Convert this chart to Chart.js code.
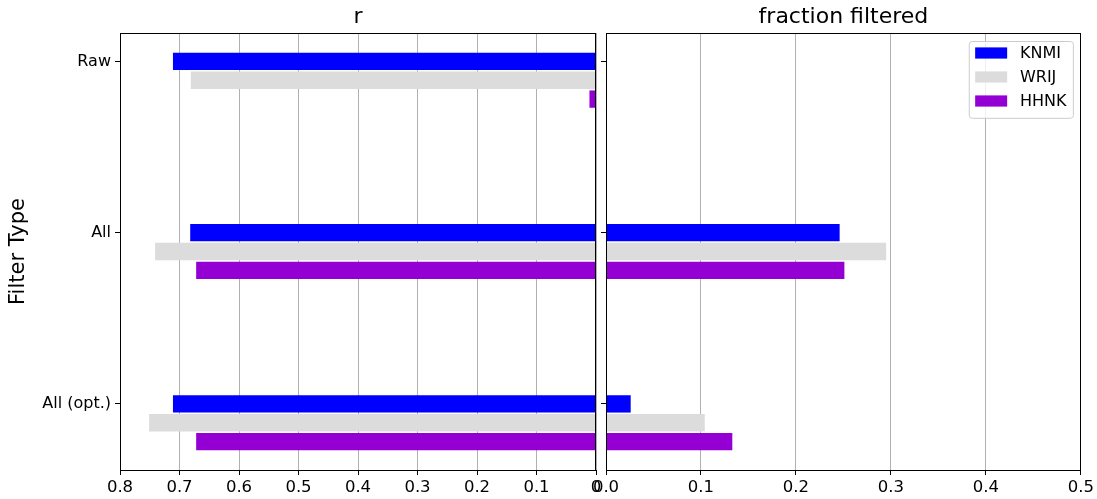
<!DOCTYPE html>
<html>
<head>
<meta charset="utf-8">
<script src="https://cdn.jsdelivr.net/npm/chart.js@4/dist/chart.umd.min.js"></script>
<style>
    html, body { margin: 0; padding: 0; background: #fff; }
    body { width: 1097px; height: 499px; position: relative; overflow: hidden; }
    canvas { position: absolute; top: 0; }
    #rChart { left: 0; }
    #fracChart { left: 560px; }
</style>
</head>
<body>
<canvas id="rChart" width="606" height="499"></canvas>
<canvas id="fracChart" width="537" height="499"></canvas>
<script>
// categories (top to bottom) and the three sources
const filterTypes = ["Raw", "All", "All (opt.)"]
const sources = ["KNMI", "WRIJ", "HHNK"]
const sourceColors = ["#0000ff", "#dcdcdc", "#9400d3"]

// correlation r per filter type
const rKNMI = [0.711, 0.682, 0.711]
const rWRIJ = [0.681, 0.741, 0.751]
const rHHNK = [0.011, 0.672, 0.672]

// fraction of data filtered out
const fracKNMI = [0, 0.246, 0.026]
const fracWRIJ = [0, 0.295, 0.104]
const fracHHNK = [0, 0.251, 0.133]

const rTicks = [0, 0.1, 0.2, 0.3, 0.4, 0.5, 0.6, 0.7, 0.8]
const fracTicks = [0, 0.1, 0.2, 0.3, 0.4, 0.5]

Chart.defaults.font.family = "'DejaVu Sans', sans-serif"
Chart.defaults.color = "#000"
Chart.defaults.animation = false

const barStep = 0.11   // each source sits one bar below the previous one

function buildDatasets(seriesList) {
    return seriesList.map((values, s) => ({
        label: sources[s],
        data: values.map((v, i) => ({ x: v, y: i + s * barStep })),
        backgroundColor: sourceColors[s],
        borderWidth: 0,
        grouped: false,
        barPercentage: 0.92,
        categoryPercentage: 1
    }))
}

// frame around the plot area + panel title
const frameAndTitle = {
    id: 'frameAndTitle',
    afterDraw(chart, args, opts) {
        const { ctx, chartArea: a } = chart
        ctx.save()
        ctx.strokeStyle = "#000"
        ctx.lineWidth = 1
        ctx.strokeRect(Math.round(a.left) + 0.5, Math.round(a.top) + 0.5,
            Math.round(a.right - a.left) - 1, Math.round(a.bottom - a.top))
        ctx.fillStyle = "#000"
        ctx.font = "22px 'DejaVu Sans'"
        ctx.textAlign = "center"
        ctx.textBaseline = "middle"
        ctx.fillText(opts.text, (a.left + a.right) / 2, 17)
        ctx.restore()
    }
}

// matplotlib-like legend box in the upper right corner
const cornerLegend = {
    id: 'cornerLegend',
    afterDraw(chart) {
        const { ctx, chartArea: a } = chart
        const fs = 16
        ctx.save()
        ctx.font = fs + "px 'DejaVu Sans'"
        const textW = Math.max(...sources.map(s => ctx.measureText(s).width))
        const w = 0.4 * fs * 2 + 2 * fs + 0.8 * fs + textW
        const h = 0.4 * fs * 2 + 3 * fs + 2 * 0.5 * fs
        const x = a.right - 0.5 * fs - w
        const y = a.top + 0.5 * fs
        ctx.beginPath()
        ctx.roundRect(x + 0.5, y + 0.5, w, h, 3)
        ctx.fillStyle = "rgba(255,255,255,0.8)"
        ctx.fill()
        ctx.strokeStyle = "#cccccc"
        ctx.lineWidth = 1
        ctx.stroke()
        sources.forEach((s, i) => {
            const cy = y + 12 + i * 24
            ctx.fillStyle = sourceColors[i]
            ctx.fillRect(x + 0.4 * fs, cy - 0.35 * fs, 2 * fs, 0.7 * fs)
            ctx.fillStyle = "#000"
            ctx.textBaseline = "middle"
            ctx.fillText(s, x + 0.4 * fs + 2.8 * fs, cy + 1)
        })
        ctx.restore()
    }
}

function yAxis(showLabels, width) {
    return {
        type: 'linear',
        reverse: true,
        offset: false,
        min: -0.166,
        max: 2.386,
        afterBuildTicks: scale => { scale.ticks = filterTypes.map((t, i) => ({ value: i })) },
        afterFit: scale => { scale.width = width },
        grid: { offset: false, drawOnChartArea: false, drawTicks: true, tickLength: 5, tickColor: "#000" },
        border: { display: false },
        ticks: {
            display: showLabels,
            font: { size: 16 },
            padding: 4,
            callback: v => filterTypes[v]
        },
        title: {
            display: showLabels,
            text: "Filter Type",
            font: { size: 21 },
            padding: { top: 6, bottom: 4 }
        }
    }
}

function xAxis(max, reverse, fmt) {
    return {
        type: 'linear',
        min: 0,
        max: max,
        reverse: reverse,
        z: 1,
        afterFit: scale => { scale.height = 29 },
        afterBuildTicks: scale => {
            const list = reverse ? rTicks : fracTicks
            scale.ticks = list.map(v => ({ value: v }))
        },
        grid: { color: "#b0b0b0", lineWidth: 1, tickLength: 5, tickColor: "#000" },
        border: { display: false },
        ticks: { font: { size: 16.5 }, padding: 3, maxRotation: 0, callback: fmt }
    }
}

new Chart(document.getElementById('rChart'), {
    type: 'bar',
    data: { datasets: buildDatasets([rKNMI, rWRIJ, rHHNK]) },
    options: {
        responsive: false,
        indexAxis: 'y',
        layout: { padding: { top: 33, right: 10, bottom: 0, left: 0 } },
        plugins: {
            legend: { display: false },
            tooltip: { enabled: false },
            frameAndTitle: { text: "r" }
        },
        scales: {
            x: xAxis(0.8, true, v => v === 0 ? "0" : v.toFixed(1)),
            y: yAxis(true, 120)
        }
    },
    plugins: [frameAndTitle]
})

new Chart(document.getElementById('fracChart'), {
    type: 'bar',
    data: { datasets: buildDatasets([fracKNMI, fracWRIJ, fracHHNK]) },
    options: {
        responsive: false,
        indexAxis: 'y',
        layout: { padding: { top: 33, right: 15, bottom: 0, left: 0 } },
        plugins: {
            legend: { display: false },
            tooltip: { enabled: false },
            frameAndTitle: { text: "fraction filtered" }
        },
        scales: {
            x: xAxis(0.5, false, v => v.toFixed(1)),
            y: yAxis(false, 46)
        }
    },
    plugins: [frameAndTitle, cornerLegend]
})
</script>
</body>
</html>
